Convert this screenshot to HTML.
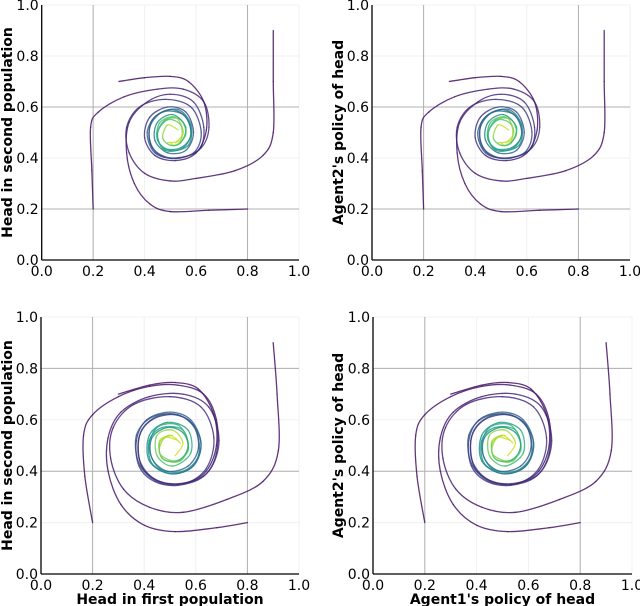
<!DOCTYPE html>
<html><head><meta charset="utf-8">
<style>
body{margin:0;background:#fff;}
svg{display:block;font-family:"DejaVu Sans","Liberation Sans",sans-serif;}
</style></head>
<body>
<svg id="chart" width="640" height="606" viewBox="0 0 640 606"></svg>
<script>
// Tick values
const ticks = [0.0, 0.2, 0.4, 0.6, 0.8, 1.0];
const tickLabels = ["0.0", "0.2", "0.4", "0.6", "0.8", "1.0"];
// Trajectories for the top panels (x, y pairs)
const topT1 = [[0.9,0.9],[0.9,0.7],[0.9,0.5],[0.86,0.41],[0.75,0.35],[0.6,0.32],[0.5,0.31],[0.4,0.34],[0.34,0.42],[0.33,0.52],[0.38,0.6],[0.48,0.63],[0.58,0.6],[0.62,0.5],[0.59,0.42],[0.5,0.4],[0.43,0.44],[0.42,0.52],[0.47,0.58],[0.55,0.57],[0.58,0.5],[0.55,0.44],[0.48,0.43],[0.45,0.49],[0.48,0.55],[0.54,0.55],[0.56,0.49],[0.52,0.45],[0.5,0.46]];
const topT2 = [[0.8,0.2],[0.65,0.195],[0.5,0.19],[0.42,0.22],[0.36,0.3],[0.33,0.42],[0.34,0.54],[0.41,0.62],[0.5,0.65],[0.59,0.62],[0.63,0.52],[0.61,0.43],[0.52,0.4],[0.44,0.42],[0.41,0.5],[0.45,0.57],[0.53,0.59],[0.58,0.53],[0.57,0.45],[0.5,0.43],[0.45,0.47],[0.46,0.54],[0.52,0.56],[0.55,0.5],[0.52,0.46]];
const topT3 = [[0.2,0.2],[0.195,0.35],[0.19,0.52],[0.22,0.58],[0.32,0.64],[0.45,0.67],[0.55,0.67],[0.63,0.62],[0.65,0.52],[0.62,0.44],[0.54,0.4],[0.46,0.41],[0.42,0.47],[0.43,0.55],[0.5,0.59],[0.56,0.56],[0.58,0.49],[0.54,0.44],[0.47,0.44],[0.45,0.5],[0.49,0.55],[0.54,0.53],[0.54,0.47],[0.49,0.46]];
const topT4 = [[0.3,0.7],[0.4,0.715],[0.5,0.72],[0.57,0.7],[0.63,0.62],[0.64,0.51],[0.6,0.42],[0.52,0.39],[0.44,0.41],[0.4,0.48],[0.42,0.56],[0.49,0.6],[0.56,0.58],[0.59,0.5],[0.56,0.43],[0.49,0.42],[0.44,0.47],[0.45,0.54],[0.51,0.57],[0.56,0.52],[0.54,0.46],[0.5,0.45],[0.47,0.48],[0.49,0.53],[0.53,0.51]];
// Trajectories for the bottom panels
const botT1 = [[0.9,0.9],[0.915,0.7],[0.92,0.48],[0.86,0.36],[0.72,0.29],[0.55,0.24],[0.42,0.26],[0.32,0.33],[0.27,0.45],[0.28,0.57],[0.36,0.66],[0.5,0.69],[0.62,0.65],[0.67,0.53],[0.64,0.41],[0.55,0.35],[0.44,0.37],[0.38,0.45],[0.39,0.56],[0.47,0.62],[0.57,0.6],[0.62,0.51],[0.59,0.42],[0.5,0.39],[0.42,0.44],[0.42,0.54],[0.49,0.59],[0.57,0.56],[0.58,0.47],[0.51,0.42],[0.45,0.46],[0.45,0.54],[0.51,0.56],[0.55,0.51],[0.52,0.46]];
const botT2 = [[0.8,0.2],[0.68,0.18],[0.52,0.165],[0.4,0.19],[0.31,0.27],[0.26,0.4],[0.26,0.53],[0.31,0.63],[0.42,0.69],[0.55,0.7],[0.65,0.65],[0.69,0.52],[0.65,0.4],[0.55,0.35],[0.45,0.36],[0.38,0.43],[0.37,0.54],[0.43,0.61],[0.53,0.62],[0.6,0.56],[0.61,0.46],[0.55,0.4],[0.46,0.41],[0.42,0.49],[0.45,0.57],[0.53,0.58],[0.57,0.51],[0.54,0.44],[0.47,0.45],[0.46,0.52],[0.51,0.54]];
const botT3 = [[0.2,0.2],[0.17,0.38],[0.165,0.54],[0.2,0.62],[0.3,0.69],[0.42,0.73],[0.53,0.735],[0.63,0.7],[0.68,0.6],[0.68,0.47],[0.63,0.38],[0.53,0.345],[0.44,0.36],[0.38,0.42],[0.37,0.52],[0.41,0.6],[0.5,0.63],[0.58,0.6],[0.62,0.51],[0.59,0.42],[0.51,0.39],[0.43,0.43],[0.42,0.52],[0.47,0.57],[0.55,0.56],[0.57,0.48],[0.52,0.44],[0.46,0.47],[0.48,0.53],[0.53,0.52]];
const botT4 = [[0.3,0.7],[0.42,0.735],[0.52,0.745],[0.61,0.72],[0.67,0.62],[0.68,0.5],[0.64,0.4],[0.56,0.355],[0.46,0.36],[0.39,0.42],[0.38,0.53],[0.43,0.6],[0.52,0.62],[0.59,0.58],[0.61,0.49],[0.57,0.42],[0.49,0.4],[0.43,0.45],[0.43,0.53],[0.49,0.57],[0.55,0.55],[0.57,0.49],[0.53,0.44],[0.47,0.45],[0.46,0.51],[0.5,0.54],[0.54,0.51]];

const NS = "http://www.w3.org/2000/svg";
const svg = document.getElementById("chart");
function mk(tag, attrs, parent){const e=document.createElementNS(NS,tag);for(const k in attrs)e.setAttribute(k,attrs[k]);(parent||svg).appendChild(e);return e;}
const vir=[[68,1,84],[72,40,120],[62,74,137],[49,104,142],[38,130,142],[31,158,137],[53,183,121],[109,205,89],[180,222,44],[253,231,37]];
function viridis(t){t=Math.max(0,Math.min(1,t))*(vir.length-1);const i=Math.min(Math.floor(t),vir.length-2),f=t-i;const c=vir[i].map((v,k)=>Math.round(v+(vir[i+1][k]-v)*f));return `rgb(${c[0]},${c[1]},${c[2]})`;}

const panels=[
 {name:"top-left",x0:41.7,x1:299,yt:5,yb:260,ylab:"Head in second population",xlab:null,ylx:8,hgrid:[0.2,0.6],vgrid:[0.2,0.8],data:[topT1,topT2,topT3,topT4]},
 {name:"top-right",x0:372,x1:630,yt:5,yb:260,ylab:"Agent2's policy of head",xlab:null,ylx:339,hgrid:[0.2,0.6],vgrid:[0.2,0.8],data:[topT1,topT2,topT3,topT4]},
 {name:"bottom-left",x0:41,x1:299,yt:317,yb:574,ylab:"Head in second population",xlab:"Head in first population",ylx:8,hgrid:[0.4,0.8],vgrid:[0.2,0.8],data:[botT1,botT2,botT3,botT4]},
 {name:"bottom-right",x0:373,x1:632,yt:317,yb:574,ylab:"Agent2's policy of head",xlab:"Agent1's policy of head",ylx:339,hgrid:[0.4,0.8],vgrid:[0.2,0.8],data:[botT1,botT2,botT3,botT4]}
];

panels.forEach(p=>{
  const g=mk("g",{});
  
  
  const sx=v=>p.x0+(p.x1-p.x0)*v, sy=v=>p.yb-(p.yb-p.yt)*v;
  ticks.forEach(t=>{
    mk("line",{x1:sx(t),x2:sx(t),y1:p.yt,y2:p.yb,stroke:"#f0f0f0","stroke-width":1},g);
    mk("line",{x1:p.x0,x2:p.x1,y1:sy(t),y2:sy(t),stroke:"#f0f0f0","stroke-width":1},g);
  });
  p.vgrid.forEach(t=>{const l=mk("line",{x1:sx(t),x2:sx(t),y1:p.yt,y2:p.yb,stroke:"#b0b0b0","stroke-width":1},g);});
  p.hgrid.forEach(t=>{const l=mk("line",{x1:p.x0,x2:p.x1,y1:sy(t),y2:sy(t),stroke:"#b0b0b0","stroke-width":1},g);});
  p.data.forEach((pts,ti)=>{
    const tg=mk("g",{fill:"none","stroke-width":1.3,"stroke-linecap":"round"},g);
    
    
    const P=pts.map(q=>[sx(q[0]),sy(q[1])]);
    for(let i=0;i<P.length-1;i++){
      const a=P[Math.max(0,i-1)],b=P[i],c=P[i+1],d=P[Math.min(P.length-1,i+2)];
      const c1=[b[0]+(c[0]-a[0])/6,b[1]+(c[1]-a[1])/6],c2=[c[0]-(d[0]-b[0])/6,c[1]-(d[1]-b[1])/6];
      const frac=i/(P.length-1);
      const t=Math.pow(frac,2.2)*0.95+0.05;
      mk("path",{d:`M${b[0]},${b[1]}C${c1[0]},${c1[1]} ${c2[0]},${c2[1]} ${c[0]},${c[1]}`,stroke:viridis(t),"stroke-opacity":0.85},tg);
    }
  });
  mk("line",{x1:p.x0,x2:p.x0,y1:p.yt,y2:p.yb,stroke:"#000","stroke-width":1.3},g);
  mk("line",{x1:p.x0,x2:p.x1,y1:p.yb,y2:p.yb,stroke:"#000","stroke-width":1.3},g);
  ticks.forEach((t,i)=>{
    const yl=mk("text",{x:p.x0-3,y:sy(t)+5,"text-anchor":"end","font-size":14,fill:"#000"},g);
    yl.textContent=tickLabels[i];
    
    
    const xl=mk("text",{x:sx(t),y:p.yb+16,"text-anchor":"middle","font-size":14,fill:"#000"},g);
    xl.textContent=tickLabels[i];
    
    
  });
  const cy=(p.yt+p.yb)/2;
  const yt=mk("text",{x:p.ylx,y:cy,"text-anchor":"middle","font-size":14,"font-weight":"bold",transform:`rotate(-90 ${p.ylx} ${cy})`,"dominant-baseline":"middle"},g);
  yt.textContent=p.ylab;
  
  
  if(p.xlab){
    const xt=mk("text",{x:(p.x0+p.x1)/2,y:p.yb+30,"text-anchor":"middle","font-size":14,"font-weight":"bold"},g);
    xt.textContent=p.xlab;
    
    
  }
});
</script>
</body></html>
